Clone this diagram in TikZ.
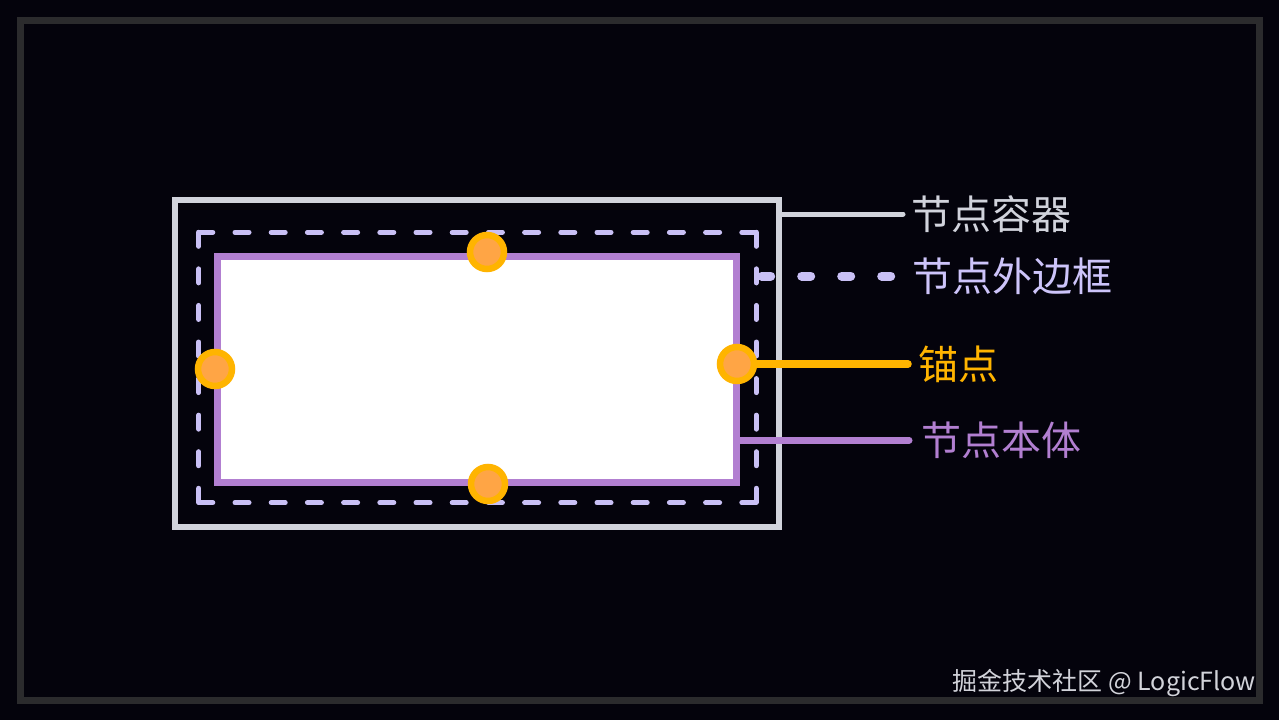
\documentclass[tikz,border=0pt]{standalone}
\usepackage{fontspec}
\newfontfamily\cjk{Noto Sans CJK SC}
\definecolor{bg}{HTML}{04030C}
\definecolor{framec}{HTML}{2B2B2D}
\definecolor{contc}{HTML}{D1D3DC}
\definecolor{lav}{HTML}{C9C0F5}
\definecolor{lavtext}{HTML}{CDC4FA}
\definecolor{purp}{HTML}{B27FD1}
\definecolor{anc}{HTML}{FFB400}
\definecolor{ancfill}{HTML}{FFA545}
\definecolor{wm}{HTML}{D2D3DA}
\begin{document}
\begin{tikzpicture}[x=1pt,y=-1pt,
  lbl/.style={anchor=west,inner sep=0pt,font=\cjk\fontsize{40}{44}\selectfont},
  contbox/.style={rectangle,draw=contc,line width=6.5pt,minimum width=604pt,minimum height=327pt,inner sep=0pt},
  outerbox/.style={rectangle,minimum width=557pt,minimum height=270pt,inner sep=0pt},
  outerdash/.style={draw=lav,line width=5pt,line cap=round,dash pattern=on 14pt off #1},
  bodybox/.style={rectangle,draw=purp,fill=white,line width=7pt,minimum width=519pt,minimum height=226pt,inner sep=0pt},
  anchorpt/.style={circle,draw=anc,fill=ancfill,line width=6.5pt,minimum size=34pt,inner sep=0pt},
  conn/.style={line width=#1,line cap=round}]
\fill[bg] (0,0) rectangle (1279,720);
\useasboundingbox (0,0) rectangle (1279,720);
\draw[framec,line width=7pt] (20,20) rectangle (1259,700);

\node[contbox] (cont) at (477,363.5) {};
\node[outerbox] (outer) at (477.5,367.5) {};
\draw[outerdash=22.2pt] (outer.north west) -- (outer.north east);
\draw[outerdash=22.2pt] (outer.south west) -- (outer.south east);
\draw[outerdash=22.57pt] (outer.north west) -- (outer.south west);
\draw[outerdash=22.57pt] (outer.north east) -- (outer.south east);
\node[bodybox] (body) at (477,369) {};

\node[lbl,text=contc] (lc) at (911,214) {节点容器};
\node[lbl,text=lavtext] (lo) at (912,276) {节点外边框};
\node[lbl,text=anc] (la) at (918,364) {锚点};
\node[lbl,text=purp] (lb) at (921,440) {节点本体};

\draw[conn=5pt,contc] (cont.east |- lc.west) -- ([xshift=-8pt]lc.west);
\draw[conn=9pt,lav,dash pattern=on 9pt off 31pt,dash phase=34.5pt] (outer.east |- lo.west) -- ([xshift=-19pt]lo.west);
\draw[conn=7pt,purp] (body.east |- lb.west) -- ([xshift=-12pt]lb.west);

\node[anchorpt] (at) at (487,252) {};
\node[anchorpt] (ab) at (488,484) {};
\node[anchorpt] (al) at (215,369) {};
\node[anchorpt] (ar) at (737,364) {};
\draw[conn=7.5pt,anc] (ar.east) -- ([xshift=-10pt]la.west);

\node[anchor=east,inner sep=0pt,text=wm,font=\cjk\fontsize{25}{28}\selectfont] (wmk) at (1256,683) {掘金技术社区 @ LogicFlow};
\end{tikzpicture}
\end{document}
